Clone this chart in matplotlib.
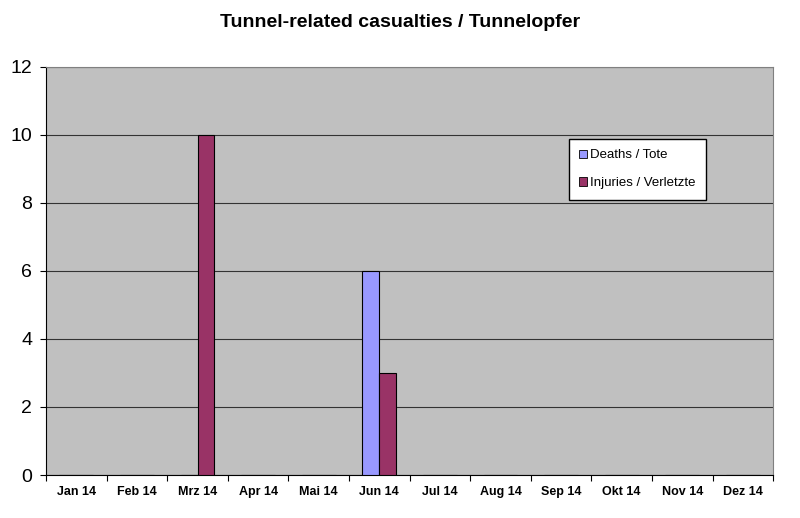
import matplotlib.pyplot as plt
import matplotlib.patches as mp
import numpy as np

plt.rcParams['font.family'] = ['Liberation Sans', 'DejaVu Sans']

months = ['Jan 14', 'Feb 14', 'Mrz 14', 'Apr 14', 'Mai 14', 'Jun 14',
          'Jul 14', 'Aug 14', 'Sep 14', 'Okt 14', 'Nov 14', 'Dez 14']
deaths = [0, 0, 0, 0, 0, 6, 0, 0, 0, 0, 0, 0]
injuries = [0, 0, 10, 0, 0, 3, 0, 0, 0, 0, 0, 0]

fig = plt.figure(figsize=[8, 5.18], dpi=100)
ax = fig.add_axes([0.0575, 0.083, 0.909, 0.788])
ax.set_facecolor('#C0C0C0')

x = np.arange(len(months))
w = 0.28
ax.bar(x - w / 2, deaths, w, color='#9999FF', edgecolor='black', linewidth=0.8, zorder=3)
ax.bar(x + w / 2, injuries, w, color='#993366', edgecolor='black', linewidth=0.8, zorder=3)

ax.set_xlim(-0.5, 11.5)
ax.set_ylim(0, 12)
ax.set_yticks(range(0, 13, 2))
ax.tick_params(axis='y', labelsize=14, length=4, direction='out', pad=6)
ax.yaxis.grid(True, color='#333333', linewidth=0.8, zorder=1)

ax.set_xticks(np.arange(-0.5, 12, 1))
ax.set_xticklabels([])
ax.set_xticks(x, minor=True)
ax.set_xticklabels(months, minor=True, fontsize=9, fontweight='bold')
ax.tick_params(axis='x', which='major', length=4, direction='out')
ax.tick_params(axis='x', which='minor', length=0, pad=8)

for s in ['top', 'right']:
    ax.spines[s].set_color('#808080')
for s in ['left', 'bottom']:
    ax.spines[s].set_color('black')

fig.text(0.5, 0.957, 'Tunnel-related casualties / Tunnelopfer', ha='center', va='center',
         fontsize=14, fontweight='bold')

h1 = mp.Patch(facecolor='#9999FF', edgecolor='black', linewidth=0.6, label='Deaths / Tote')
h2 = mp.Patch(facecolor='#993366', edgecolor='black', linewidth=0.6, label='Injuries / Verletzte')
leg = ax.legend(handles=[h1, h2], loc='upper left', bbox_to_anchor=(0.719, 0.8235),
                fontsize=9.5, frameon=True, fancybox=False, handlelength=0.6, handleheight=0.6,
                handletextpad=0.2, labelspacing=1.2, borderpad=0.8, borderaxespad=0)
leg.get_frame().set_edgecolor('black')
leg.get_frame().set_facecolor('white')
leg.get_frame().set_alpha(1)

fig.savefig('out.png', dpi=100)
